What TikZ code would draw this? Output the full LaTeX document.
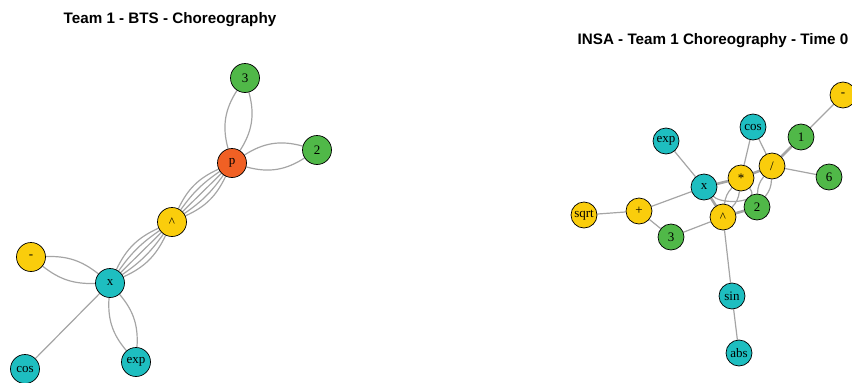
\documentclass[tikz,border=0pt]{standalone}
\usepackage{fontspec}
\setmainfont{Liberation Serif}
\newfontfamily\titlefont{Liberation Sans}
\usetikzlibrary{backgrounds}
\definecolor{cgreen}{RGB}{80,184,72}
\definecolor{cteal}{RGB}{30,190,192}
\definecolor{cyellow}{RGB}{250,205,12}
\definecolor{corange}{RGB}{240,96,36}
\definecolor{cedge}{RGB}{165,165,165}
\begin{document}
\begin{tikzpicture}[x=1pt,y=-1pt,
  vtx/.style={circle,draw=black,line width=0.7pt,inner sep=0pt,font=\fontsize{13}{13}\selectfont},
  big/.style={vtx,minimum size=29pt},
  small/.style={vtx,minimum size=26pt},
  gr/.style={fill=cgreen},
  te/.style={fill=cteal},
  ye/.style={fill=cyellow},
  orr/.style={fill=corange},
  ed/.style={draw=cedge,line width=1.2pt},
  thked/.style={draw=cedge,line width=2.6pt},
  ttl/.style={font=\titlefont\bfseries\fontsize{15.2}{15}\selectfont}]
\useasboundingbox (0,0) rectangle (852,383);
% titles
\node[ttl] (t1) at (170,20) {Team 1 - BTS - Choreography};
\node[ttl] (t2) at (713,41) {INSA - Team 1 Choreography - Time 0};
% left graph nodes
\node[big,gr] (L3) at (245,78) {3};
\node[big,gr] (L2) at (317,150) {2};
\node[big,orr] (Lp) at (232,163) {p};
\node[big,ye] (Lc) at (172,222) {\^{}};
\node[big,ye] (Lm) at (31,257) {-};
\node[big,te] (Lx) at (110,283) {x};
\node[big,te] (Lcos) at (25,369) {cos};
\node[big,te] (Lexp) at (136,362) {exp};
% right graph nodes
\node[small,ye] (Rm) at (843,95) {-};
\node[small,te] (Rcos) at (753,127) {cos};
\node[small,gr] (R1) at (801,137) {1};
\node[small,te] (Rexp) at (666,141) {exp};
\node[small,ye] (Rdiv) at (772,166) {/};
\node[small,gr] (R6) at (829,177) {6};
\node[small,ye] (Rmul) at (741,178) {*};
\node[small,te] (Rx) at (704,187) {x};
\node[small,gr] (R2) at (757,207) {2};
\node[small,ye] (Rplus) at (639,211) {+};
\node[small,ye] (Rsqrt) at (584,215) {sqrt};
\node[small,ye] (Rc) at (723,217) {\^{}};
\node[small,gr] (R3) at (671,237) {3};
\node[small,te] (Rsin) at (732,296) {sin};
\node[small,te] (Rabs) at (739,353) {abs};
\begin{pgfonlayer}{background}
% left edges
\draw[ed] (L3) to[bend left=24] (Lp);
\draw[ed] (L3) to[bend right=24] (Lp);
\draw[ed] (L2) to[bend left=24] (Lp);
\draw[ed] (L2) to[bend right=24] (Lp);
\foreach \b in {-20,-10,0,10,20} {
  \draw[ed] (Lp) to[bend left=\b] (Lc);
  \draw[ed] (Lc) to[bend left=\b] (Lx);
}
\draw[ed] (Lm) to[bend left=20] (Lx);
\draw[ed] (Lm) to[bend right=20] (Lx);
\draw[ed] (Lx) to[bend left=22] (Lexp);
\draw[ed] (Lx) to[bend right=22] (Lexp);
\draw[ed] (Lx) -- (Lcos);
% right edges
\draw[ed] (Rm) -- (R1);
\draw[thked] (R1) -- (Rdiv);
\draw[ed] (Rcos) -- (Rmul);
\draw[ed] (Rcos) -- (Rdiv);
\draw[ed] (Rexp) -- (Rx);
\draw[ed] (Rdiv) -- (R6);
\draw[thked] (Rmul) -- (Rdiv);
\draw[thked] (Rx) -- (Rmul);
\draw[ed] (Rx) -- (Rplus);
\draw[ed] (Rsqrt) -- (Rplus);
\draw[ed] (Rplus) -- (R3);
\draw[ed] (R3) -- (Rc);
\draw[thked] (Rx) -- (Rc);
\draw[thked] (Rc) -- (R2);
\draw[ed] (Rc) -- (Rsin);
\draw[ed] (Rsin) -- (Rabs);
\draw[ed] (Rx) .. controls (722,205) and (762,203) .. (Rmul);
\draw[ed] (Rc) to[bend left=18] (Rmul);
\draw[ed] (Rc) to[bend right=18] (Rmul);
\draw[ed] (R2) to[bend left=18] (Rdiv);
\draw[ed] (R2) to[bend right=18] (Rdiv);
\end{pgfonlayer}
\end{tikzpicture}
\end{document}
